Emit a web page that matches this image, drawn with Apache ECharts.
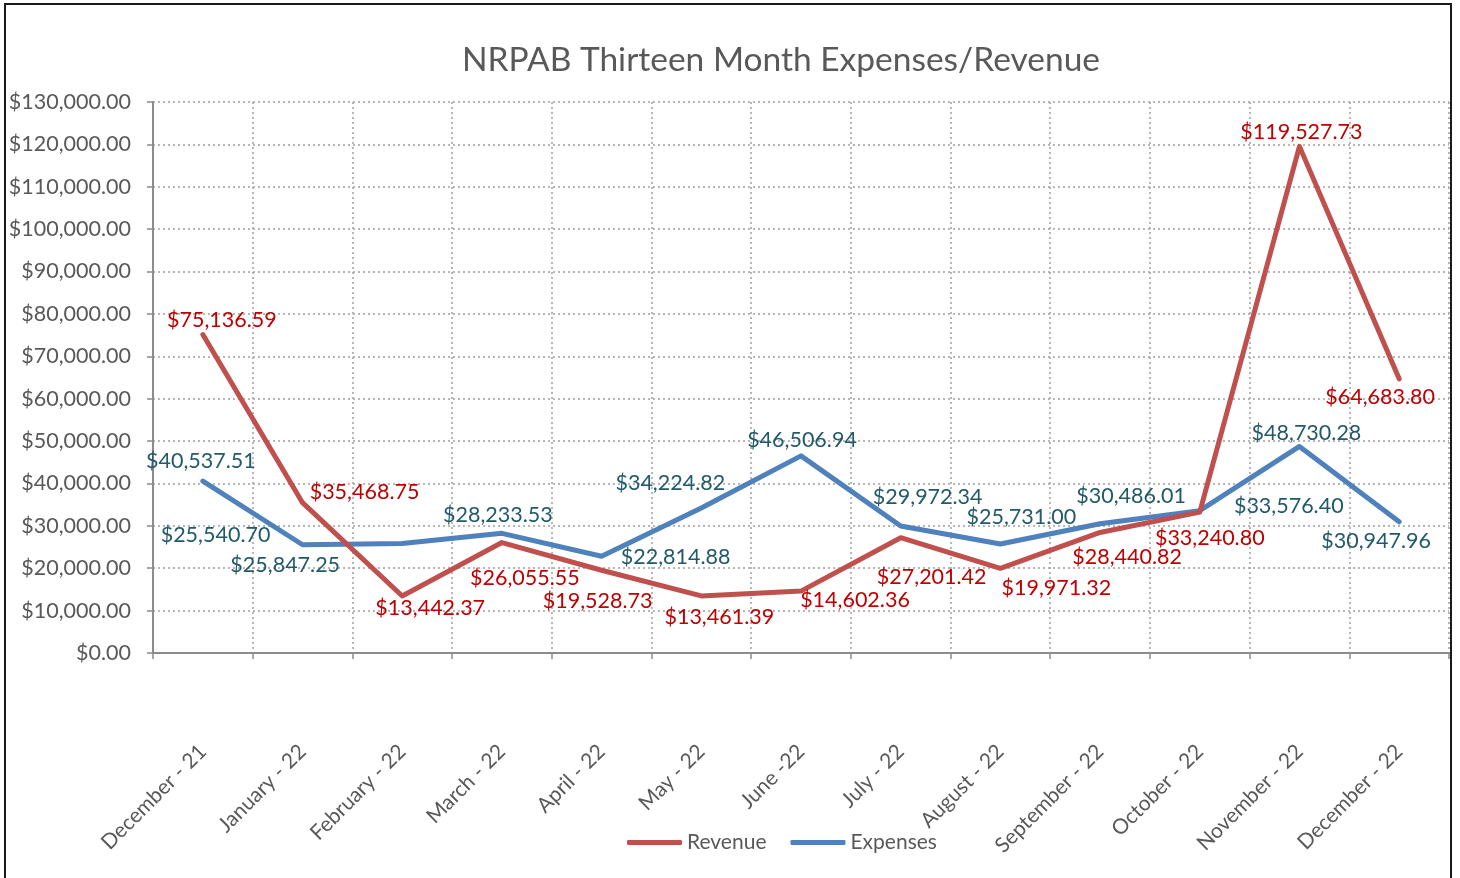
<!DOCTYPE html>
<html>
<head>
<meta charset="utf-8">
<script src="https://cdn.jsdelivr.net/npm/echarts@6/dist/echarts.min.js"></script>
<style>
  html, body { margin: 0; padding: 0; background: #fff; }
  #chart { width: 1460px; height: 878px; }
</style>
</head>
<body>
<div id="chart"></div>
<script>
var months = [
  "December - 21", "January - 22", "February - 22", "March - 22", "April - 22",
  "May - 22", "June -22", "July - 22", "August - 22", "September - 22",
  "October - 22", "November - 22", "December - 22"
];
var revenue = [75136.59, 35468.75, 13442.37, 26055.55, 19528.73, 13461.39, 14602.36,
  27201.42, 19971.32, 28440.82, 33240.80, 119527.73, 64683.80];
var expenses = [40537.51, 25540.70, 25847.25, 28233.53, 22814.88, 34224.82, 46506.94,
  29972.34, 25731.00, 30486.01, 33576.40, 48730.28, 30947.96];

// label nudges (px) so the data labels sit where they do in the original
var revOffsets = [[19, -14], [62, -11], [28, 12], [23, 35], [-4, 31], [18, 21], [54, 9],
  [31, 39], [56, 20], [27, 25], [10, 26], [2, -14], [-19, 18]];
var expOffsets = [[-2, -20], [-87, -10], [-117, 22], [-4, -18], [74, 1], [-31, -25], [1, -16],
  [27, -29], [21, -27], [31, -28], [89, -5], [7, -13], [-23, 19]];

var font = "Lato, 'Open Sans', sans-serif";

function money(v) {
  return "$" + Number(v).toLocaleString("en-US", { minimumFractionDigits: 2, maximumFractionDigits: 2 });
}

function withOffsets(vals, offs) {
  return vals.map(function (v, i) {
    return { value: v, label: { offset: offs[i] } };
  });
}

var chart = echarts.init(document.getElementById("chart"));

var option = {
  backgroundColor: "#fff",
  animation: false,
  textStyle: { fontFamily: font },
  graphic: [
    {
      type: "rect",
      shape: { x: 5, y: 4, width: 1446, height: 900 },
      style: { fill: "none", stroke: "#1a1a1a", lineWidth: 2 },
      z: 0
    },
    {
      type: "text",
      x: 781,
      y: 60,
      style: {
        text: "NRPAB Thirteen Month Expenses/Revenue",
        fontFamily: font,
        fontSize: 33.5,
        fill: "#595959",
        align: "center",
        verticalAlign: "middle"
      }
    }
  ],
  grid: { left: 153, right: 11, top: 102, bottom: 225 },
  legend: {
    data: ["Revenue", "Expenses"],
    left: 622,
    top: 827,
    icon: "roundRect",
    itemWidth: 55,
    itemHeight: 5,
    itemGap: 24,
    textStyle: { fontSize: 21, color: "#595959", fontFamily: font }
  },
  xAxis: {
    type: "category",
    data: months,
    boundaryGap: true,
    axisLine: { lineStyle: { color: "#8c8c8c", width: 2 } },
    axisTick: { show: true, length: 6, lineStyle: { color: "#8c8c8c", width: 1.5 } },
    axisLabel: {
      rotate: 45,
      margin: 95,
      interval: 0,
      fontSize: 21,
      color: "#595959",
      fontFamily: font
    },
    splitLine: { show: true, lineStyle: { color: "#a0a0a0", type: [2, 3], width: 1.5 } }
  },
  yAxis: {
    type: "value",
    min: 0,
    max: 130000,
    interval: 10000,
    axisLine: { show: true, lineStyle: { color: "#8c8c8c", width: 2 } },
    axisTick: { show: true, length: 6, lineStyle: { color: "#8c8c8c", width: 1.5 } },
    axisLabel: {
      margin: 22,
      fontSize: 21.5,
      color: "#595959",
      fontFamily: font,
      formatter: money
    },
    splitLine: { lineStyle: { color: "#a0a0a0", type: [2, 3], width: 1.5 } }
  },
  series: [
    {
      name: "Expenses",
      type: "line",
      data: withOffsets(expenses, expOffsets),
      symbol: "circle",
      symbolSize: 2,
      itemStyle: { color: "#4f81bd" },
      lineStyle: { color: "#4f81bd", width: 5, join: "round", cap: "round" },
      label: {
        show: true,
        position: "inside",
        fontSize: 21.5,
        color: "#215a69",
        fontFamily: font,
        formatter: function (p) { return money(p.value); }
      },
      z: 2
    },
    {
      name: "Revenue",
      type: "line",
      data: withOffsets(revenue, revOffsets),
      symbol: "circle",
      symbolSize: 2,
      itemStyle: { color: "#c0504d" },
      lineStyle: { color: "#c0504d", width: 5, join: "round", cap: "round" },
      label: {
        show: true,
        position: "inside",
        fontSize: 21.5,
        color: "#c00000",
        fontFamily: font,
        formatter: function (p) { return money(p.value); }
      },
      z: 3
    }
  ]
};

chart.setOption(option);
</script>
</body>
</html>
